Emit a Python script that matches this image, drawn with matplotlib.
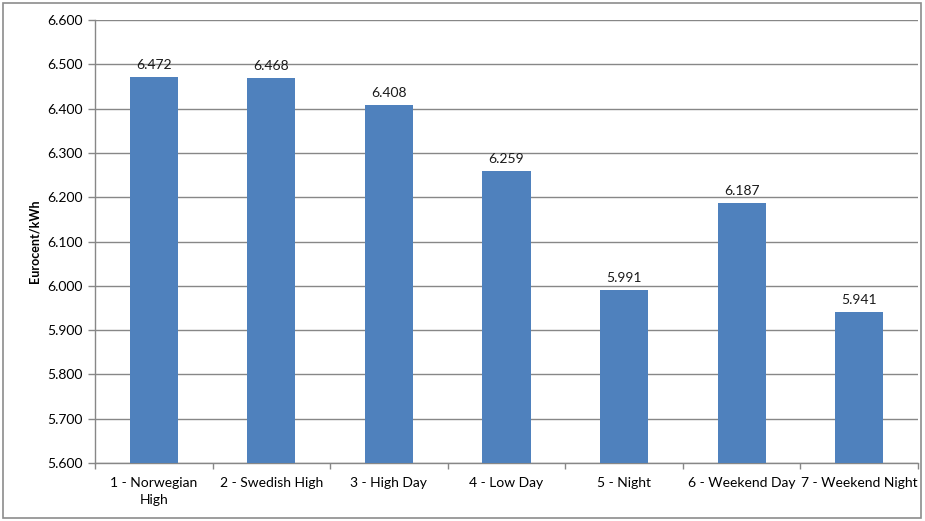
import matplotlib.pyplot as plt
from matplotlib.patches import Rectangle

categories = ['1 - Norwegian\nHigh', '2 - Swedish High', '3 - High Day', '4 - Low Day',
              '5 - Night', '6 - Weekend Day', '7 - Weekend Night']
prices = [6.472, 6.468, 6.408, 6.259, 5.991, 6.187, 5.941]
y_ticks = [5.6, 5.7, 5.8, 5.9, 6.0, 6.1, 6.2, 6.3, 6.4, 6.5, 6.6]

plt.rcParams['font.family'] = ['Lato', 'DejaVu Sans']

fig = plt.figure(figsize=(9.25, 5.21), dpi=100)
W, H = 925, 521
ax = fig.add_axes([95 / W, 1 - 463 / H, (918 - 95) / W, (463 - 20) / H])

# outer chart border
fig.patches.append(Rectangle((3 / W, 3 / H), (921 - 3) / W, (518 - 3) / H,
                             transform=fig.transFigure, fill=False,
                             edgecolor='#8c8c8c', linewidth=1.2))

x = list(range(len(categories)))
ax.bar(x, [p - 5.6 for p in prices], bottom=5.6, width=0.41, color='#4f81bd', zorder=3)
for xi, p in zip(x, prices):
    ax.text(xi, p + 0.014, f'{p:.3f}', ha='center', va='bottom', fontsize=10, color='#1a1a1a')

ax.set_xlim(-0.5, len(categories) - 0.5)
ax.set_ylim(5.6, 6.6)
ax.set_yticks(y_ticks)
ax.set_yticklabels([f'{v:.3f}' for v in y_ticks], fontsize=10)
ax.set_xticks(x)
ax.set_xticklabels(categories, fontsize=10, linespacing=1.5)
ax.set_xticks([i - 0.5 for i in range(len(categories) + 1)], minor=True)
ax.tick_params(axis='x', which='major', length=0, pad=10)
ax.tick_params(axis='x', which='minor', length=4, color='#878787', width=1)
ax.tick_params(axis='y', length=5, color='#878787', width=1, pad=4)

ax.grid(axis='y', color='#878787', linewidth=1, zorder=0)
for side in ['top', 'right']:
    ax.spines[side].set_visible(False)
for side in ['left', 'bottom']:
    ax.spines[side].set_color('#878787')
    ax.spines[side].set_linewidth(1)

ax.set_ylabel('Eurocent/kWh', fontsize=9, fontweight='bold', labelpad=5)

fig.savefig('out.png', dpi=100)
